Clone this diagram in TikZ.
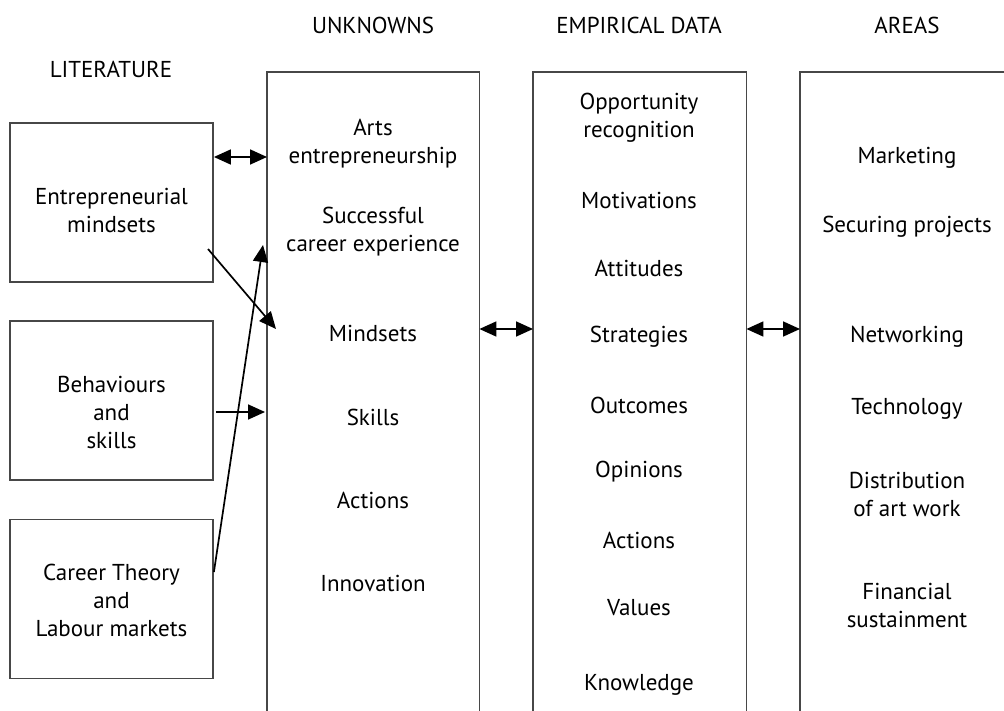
\documentclass[tikz,border=0pt]{standalone}
\usepackage{fontspec}
\setmainfont{PT Sans}
\usetikzlibrary{arrows.meta}
\tikzset{
  boxline/.style={draw=black!72, line width=1.8pt},
  litbox/.style={boxline, minimum width=203pt, minimum height=159pt, inner sep=0pt},
  colarea/.style={draw=none, minimum width=212pt, minimum height=639pt, inner sep=0pt, anchor=north west},
  txt/.style={align=center, font=\fontsize{23}{28}\selectfont, inner sep=0pt},
  ttl/.style={font=\fontsize{23}{26}\selectfont, inner sep=0pt},
  tip/.style={Triangle[length=17pt,width=15pt]},
  con/.style={line width=1.7pt, -{Triangle[length=17pt,width=15pt]}},
  dcon/.style={line width=1.7pt, {Triangle[length=17pt,width=15pt]}-{Triangle[length=17pt,width=15pt]}},
}
\begin{document}
\begin{tikzpicture}[x=1pt,y=-1pt]
\useasboundingbox (0,0) rectangle (1004,711);
% titles
\node[ttl] (tlit) at (111,69) {LITERATURE};
\node[ttl] (tunk) at (373,25) {UNKNOWNS};
\node[ttl] (temp) at (639,25) {EMPIRICAL DATA};
\node[ttl] (tare) at (907,25) {AREAS};
% literature boxes
\node[litbox] (lit1) at (111.5,202.5) {};
\node[litbox] (lit2) at (111.5,400.5) {};
\node[litbox] (lit3) at (111.5,599) {};
\node[txt] (l1t) at (111.5,210) {Entrepreneurial\\mindsets};
\node[txt] (l2t) at (111.5,412) {Behaviours\\and\\skills};
\node[txt] (l3t) at (111.5,600) {Career Theory\\and\\Labour markets};
% columns (open at the bottom)
\node[colarea] (unk) at (267,72) {};
\node[colarea, minimum width=213pt] (emp) at (533,72) {};
\node[colarea, minimum width=260pt] (are) at (800,72) {};
\draw[boxline] (unk.south west) -- (unk.north west) -- (unk.north east) -- (unk.south east);
\draw[boxline] (emp.south west) -- (emp.north west) -- (emp.north east) -- (emp.south east);
\draw[boxline] (are.south west) -- (are.north west) -- (are.north east);
% unknowns
\node[txt] (u1) at (373,144) {Arts\\entrepreneurship};
\node[txt] (u2) at (373,232) {Successful\\career experience};
\node[txt] (u3) at (373,333) {Mindsets};
\node[txt] (u4) at (373,417) {Skills};
\node[txt] (u5) at (373,500) {Actions};
\node[txt] (u6) at (373,583) {Innovation};
% empirical data
\node[txt] (e1) at (639,118) {Opportunity\\recognition};
\node[txt] (e2) at (639,200) {Motivations};
\node[txt] (e3) at (639,268) {Attitudes};
\node[txt] (e4) at (639,337) {Strategies};
\node[txt] (e5) at (639,405) {Outcomes};
\node[txt] (e6) at (639,472) {Opinions};
\node[txt] (e7) at (639,540) {Actions};
\node[txt] (e8) at (639,608) {Values};
\node[txt] (e9) at (639,685) {Knowledge};
% areas
\node[txt] (a1) at (907,158) {Marketing};
\node[txt] (a2) at (907,227) {Securing projects};
\node[txt] (a3) at (907,337) {Networking};
\node[txt] (a4) at (907,409) {Technology};
\node[txt] (a5) at (907,494) {Distribution\\of art work};
\node[txt] (a6) at (907,605) {Financial\\sustainment};
% connector end points
\coordinate (p1a) at (lit1.east |- 0,157);
\coordinate (p1b) at (unk.west |- 0,157);
\coordinate (p2a) at (208,249);
\coordinate (p2b) at (276,329);
\coordinate (p3a) at (lit3.east |- 0,572);
\coordinate (p3b) at (263,245);
\coordinate (p4a) at (216,412);
\coordinate (p4b) at (265,412);
\coordinate (p5a) at (unk.east |- 0,329);
\coordinate (p5b) at (emp.west |- 0,329);
\coordinate (p6a) at (emp.east |- 0,329);
\coordinate (p6b) at (are.west |- 0,329);
% connectors
\draw[dcon] (p1a) -- (p1b);
\draw[con] (p2a) -- (p2b);
\draw[con] (p3a) -- (p3b);
\draw[con] (p4a) -- (p4b);
\draw[dcon] (p5a) -- (p5b);
\draw[dcon] (p6a) -- (p6b);
\end{tikzpicture}
\end{document}
